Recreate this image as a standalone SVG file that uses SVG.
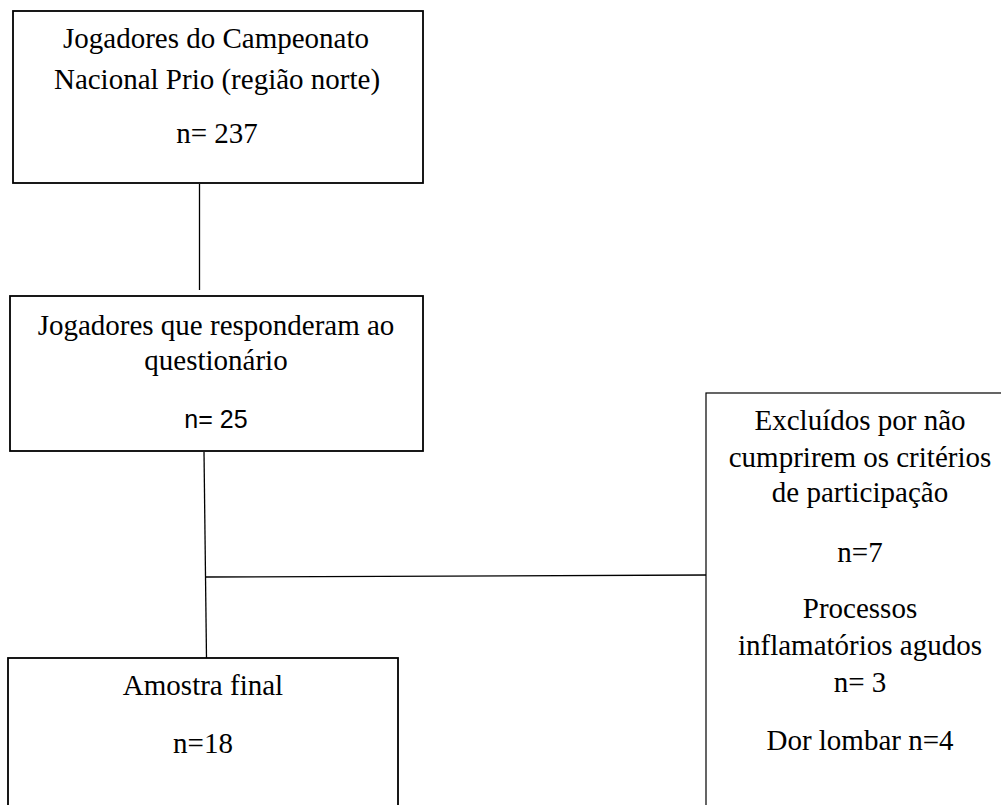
<svg xmlns="http://www.w3.org/2000/svg" width="1001" height="805" viewBox="0 0 1001 805">
<style>
.box{fill:#fff;stroke:#000;stroke-width:1.8}
.thin{fill:#fff;stroke:#000;stroke-width:1.2}
.t{font-family:'Liberation Serif','Times New Roman',serif;font-size:29px;fill:#000;text-anchor:middle}
.s{font-family:'Liberation Sans',Arial,sans-serif;font-size:25px;fill:#000;text-anchor:middle}
.c{stroke:#000;stroke-width:1.3;fill:none}
</style>
<rect width="1001" height="805" fill="#fff"/>
<g id="connectors">
<line class="c" x1="199.5" y1="184" x2="199.5" y2="290"/>
<line class="c" x1="204" y1="452" x2="206.5" y2="658"/>
<line class="c" x1="205" y1="577" x2="706" y2="575"/>
</g>
<g id="n1">
<rect class="box" x="13" y="11" width="410" height="172"/>
<text class="t" x="216" y="48">Jogadores do Campeonato</text>
<text class="t" x="217" y="89">Nacional Prio (região norte)</text>
<text class="t" x="217" y="143">n= 237</text>
</g>
<g id="n2">
<rect class="box" x="10" y="296" width="413" height="155"/>
<text class="t" x="216" y="335">Jogadores que responderam ao</text>
<text class="t" x="216" y="370">questionário</text>
<text class="s" x="216" y="428">n= 25</text>
</g>
<g id="n3">
<rect class="box" x="8" y="658" width="390" height="160"/>
<text class="t" x="203" y="695">Amostra final</text>
<text class="t" x="203" y="753">n=18</text>
</g>
<g id="n4">
<rect class="thin" x="706" y="393" width="310" height="430"/>
<text class="t" x="860" y="430">Excluídos por não</text>
<text class="t" x="860" y="467">cumprirem os critérios</text>
<text class="t" x="860" y="502">de participação</text>
<text class="t" x="860" y="562">n=7</text>
<text class="t" x="860" y="618">Processos</text>
<text class="t" x="860" y="655">inflamatórios agudos</text>
<text class="t" x="860" y="692">n= 3</text>
<text class="t" x="860" y="750">Dor lombar n=4</text>
</g>
</svg>
